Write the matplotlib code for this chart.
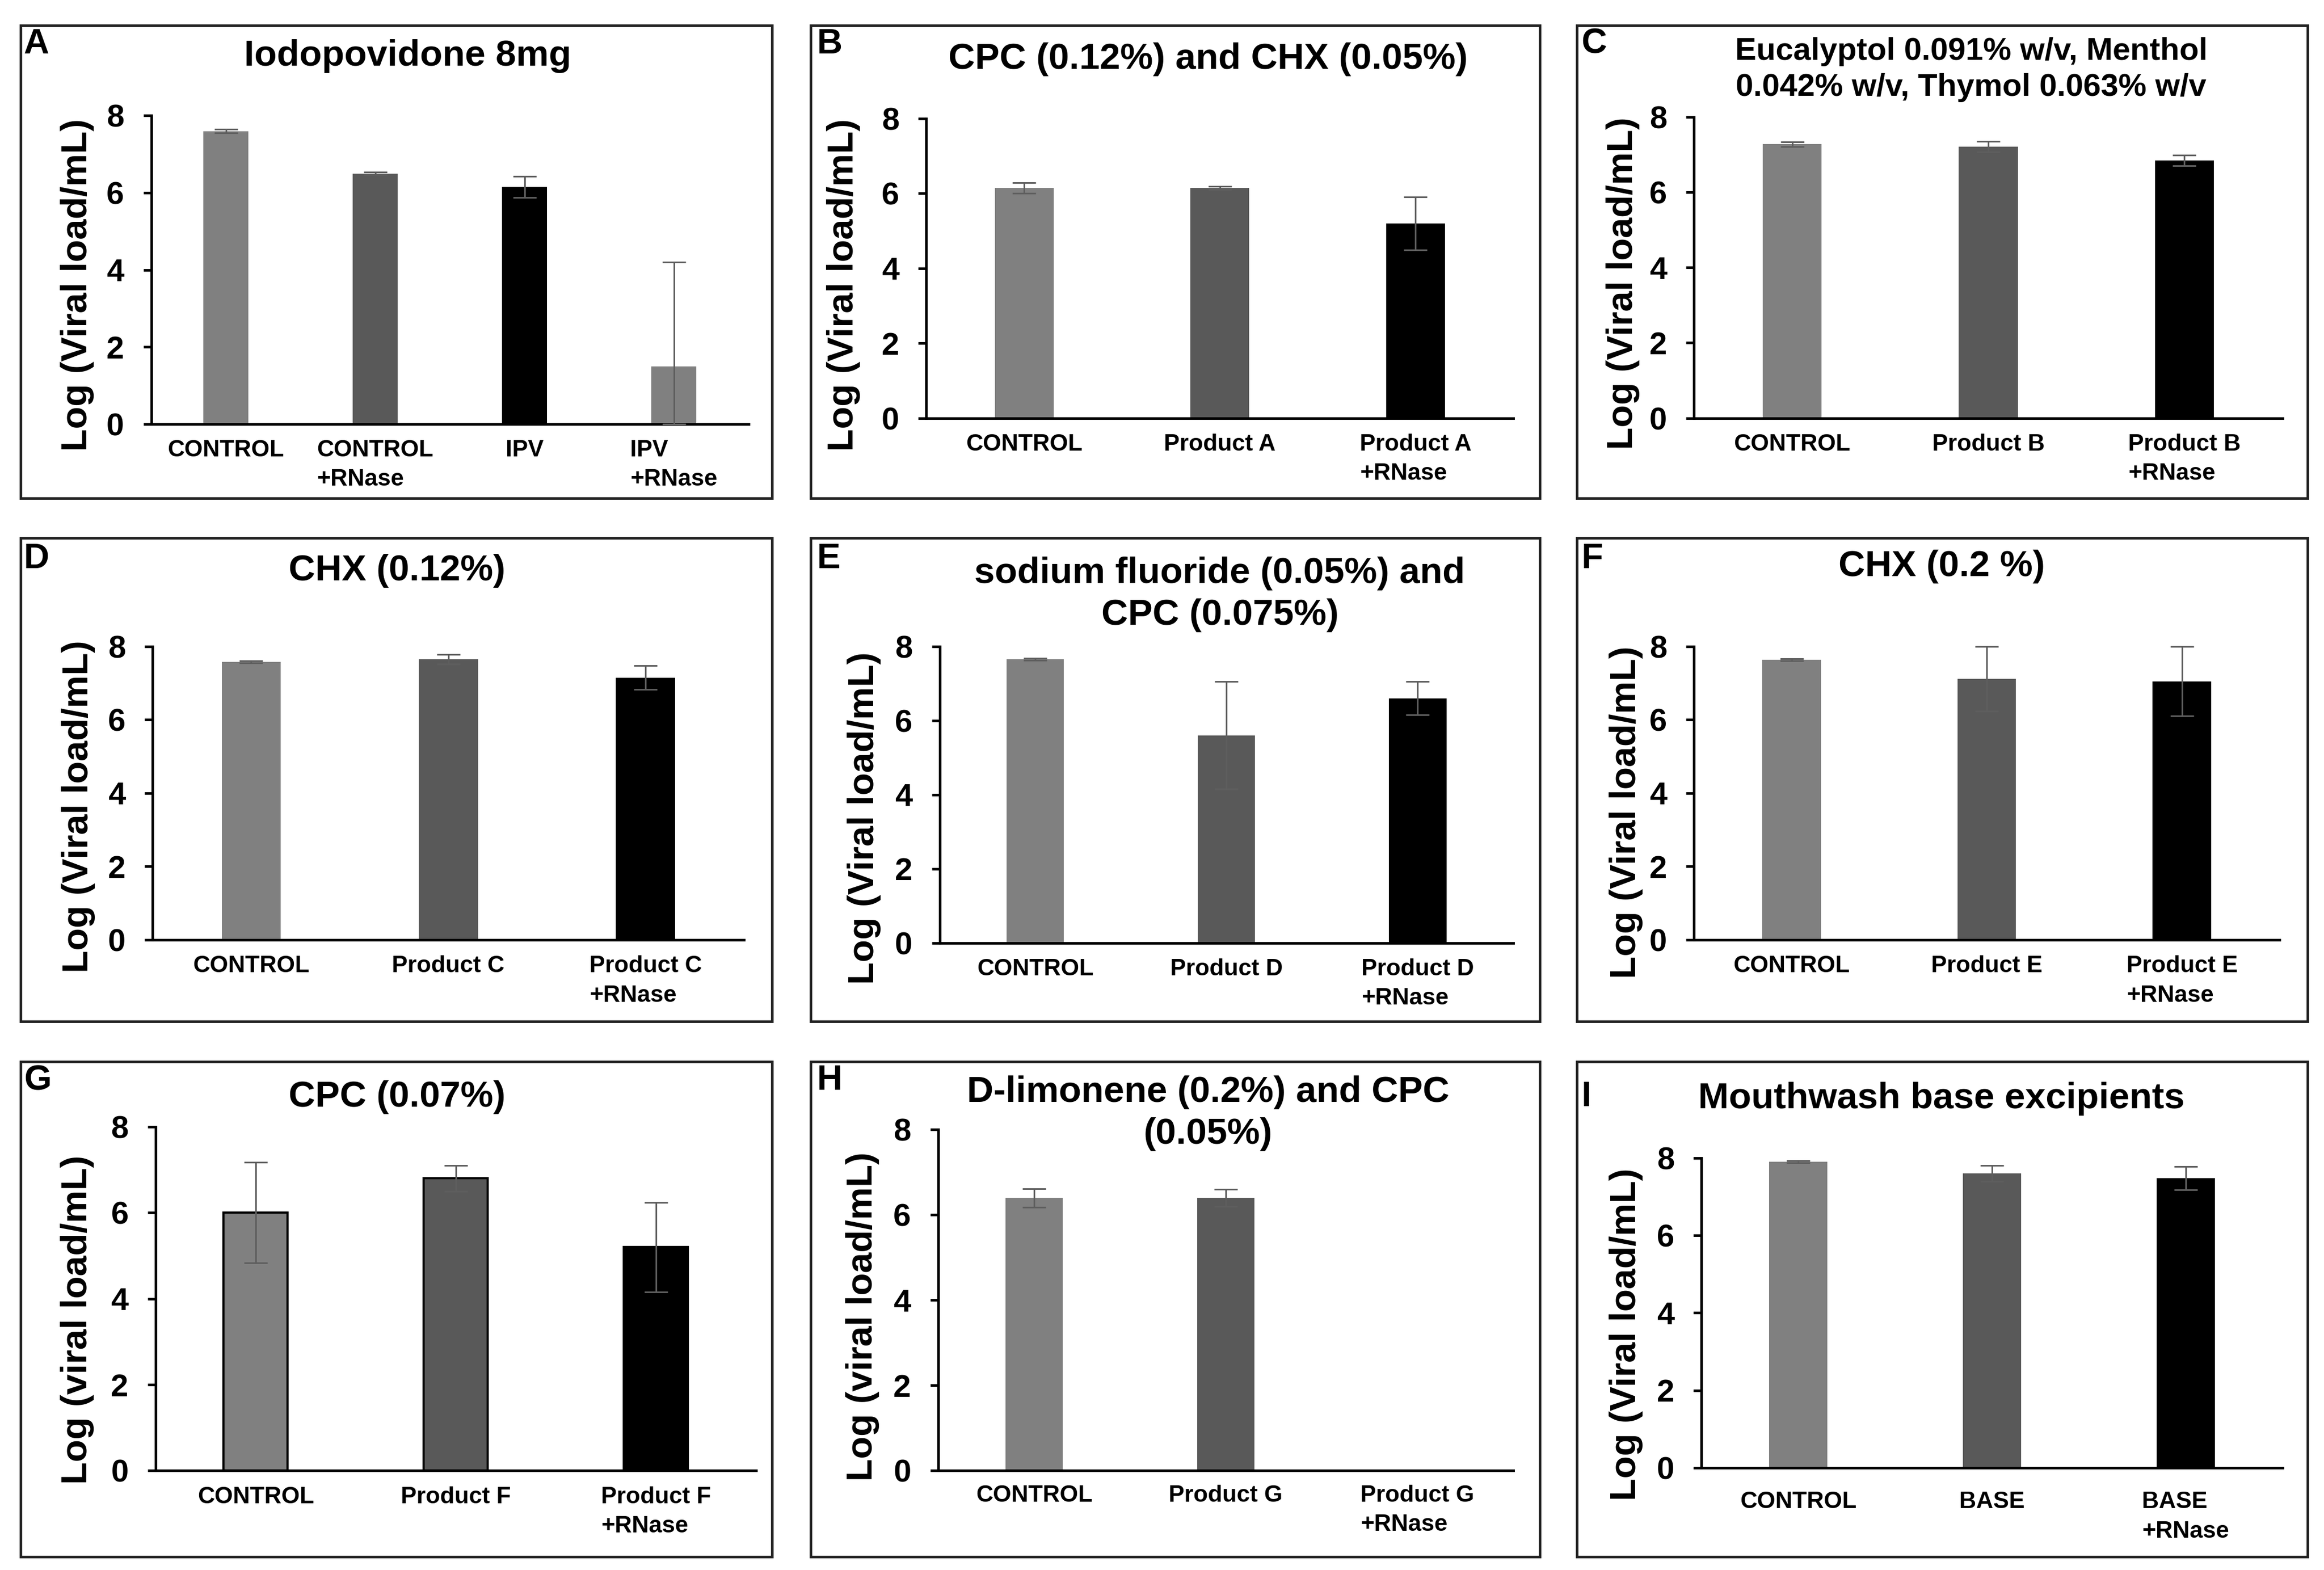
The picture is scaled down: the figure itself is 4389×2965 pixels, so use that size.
import numpy as np
import matplotlib
matplotlib.use('Agg')
import matplotlib.pyplot as plt
from matplotlib.patches import Rectangle

plt.rcParams['font.family'] = ['Liberation Sans', 'DejaVu Sans']
plt.rcParams['font.weight'] = 'bold'

LIGHT = '#808080'
DARK = '#595959'
BLACK = '#000000'
ERR = '#5e5e5e'

# ---- data ----
a_labels = ['CONTROL', 'CONTROL\n+RNase', 'IPV', 'IPV\n+RNase']
a_vals = [7.6, 6.5, 6.15, 1.5]
a_err = [0.05, 0.03, 0.27, 2.7]

b_labels = ['CONTROL', 'Product A', 'Product A\n+RNase']
b_vals = [6.15, 6.15, 5.2]
b_err = [0.14, 0.04, 0.71]

c_labels = ['CONTROL', 'Product B', 'Product B\n+RNase']
c_vals = [7.28, 7.22, 6.85]
c_err = [0.06, 0.14, 0.14]

d_labels = ['CONTROL', 'Product C', 'Product C\n+RNase']
d_vals = [7.58, 7.65, 7.15]
d_err = [0.03, 0.13, 0.32]

e_labels = ['CONTROL', 'Product D', 'Product D\n+RNase']
e_vals = [7.65, 5.6, 6.6]
e_err = [0.03, 1.45, 0.45]

f_labels = ['CONTROL', 'Product E', 'Product E\n+RNase']
f_vals = [7.63, 7.12, 7.05]
f_err = [0.03, 0.88, 0.95]

g_labels = ['CONTROL', 'Product F', 'Product F\n+RNase']
g_vals = [6.0, 6.8, 5.2]
g_err = [1.17, 0.3, 1.04]

h_labels = ['CONTROL', 'Product G', 'Product G\n+RNase']
h_vals = [6.4, 6.4, 0.0]
h_err = [0.22, 0.2, 0.0]

i_labels = ['CONTROL', 'BASE', 'BASE\n+RNase']
i_vals = [7.9, 7.6, 7.48]
i_err = [0.03, 0.2, 0.3]

letters = ['A', 'B', 'C', 'D', 'E', 'F', 'G', 'H', 'I']
titles = ['Iodopovidone 8mg',
          'CPC (0.12%) and CHX (0.05%)',
          'Eucalyptol 0.091% w/v, Menthol\n0.042% w/v, Thymol 0.063% w/v',
          'CHX (0.12%)',
          'sodium fluoride (0.05%) and\nCPC (0.075%)',
          'CHX (0.2 %)',
          'CPC (0.07%)',
          'D-limonene (0.2%) and CPC\n(0.05%)',
          'Mouthwash base excipients']
ylabels = ['Log (Viral load/mL)'] * 6 + ['Log (viral load/mL)'] * 2 + ['Log (Viral load/mL)']

panels = [(a_labels, a_vals, a_err, [LIGHT, DARK, BLACK, LIGHT]),
          (b_labels, b_vals, b_err, [LIGHT, DARK, BLACK]),
          (c_labels, c_vals, c_err, [LIGHT, DARK, BLACK]),
          (d_labels, d_vals, d_err, [LIGHT, DARK, BLACK]),
          (e_labels, e_vals, e_err, [LIGHT, DARK, BLACK]),
          (f_labels, f_vals, f_err, [LIGHT, DARK, BLACK]),
          (g_labels, g_vals, g_err, [LIGHT, DARK, BLACK]),
          (h_labels, h_vals, h_err, [LIGHT, DARK, BLACK]),
          (i_labels, i_vals, i_err, [LIGHT, DARK, BLACK])]

# ---- layout (in 1568x1059 preview coords) ----
REF_W, REF_H = 1568.0, 1059.0
def fx(x):
    return x / REF_W
def fy(y):
    return 1 - y / REF_H

# left, y of 0, right, y of 8
axes_box = [(102, 286, 505, 78), (625, 282, 1021, 80), (1143, 282, 1540, 79),
            (103, 634, 502, 436), (634, 636, 1021, 436), (1143, 634, 1538, 436),
            (105, 992, 510, 760), (633, 992, 1021, 762), (1148, 990, 1540, 781)]
frames = [(14, 17, 521, 336), (547, 17, 1039, 336), (1064, 17, 1557, 336),
          (14, 363, 521, 689), (547, 363, 1039, 689), (1064, 363, 1557, 689),
          (14, 716, 521, 1050), (547, 716, 1039, 1050), (1064, 716, 1557, 1050)]
title_pos = [(275, 38), (815, 40), (1330, 47), (268, 385), (823, 401), (1310, 382),
             (268, 740), (815, 751), (1310, 741)]
title_size = [50, 50, 43, 50, 50, 50, 50, 50, 50]
letter_pos = [(16, 30), (551, 30), (1067, 30), (16, 377), (551, 377), (1067, 377),
              (16, 729), (551, 729), (1067, 740)]
ylab_pos = [(52, 192), (569, 192), (1095, 191), (53, 544), (583, 552), (1097, 548),
            (52, 890), (582, 888), (1097, 900)]
xpad = [21, 21, 21, 21, 21, 21, 21, 19, 32]

fig = plt.figure(figsize=(43.89, 29.65), dpi=100)

for k, (labels, vals, err, cols) in enumerate(panels):
    l, b, r, t = axes_box[k]
    ax = fig.add_axes([fx(l), fy(b), fx(r) - fx(l), fy(t) - fy(b)])
    x = np.arange(len(labels))
    vals = np.array(vals)
    err = np.array(err)
    if letters[k] == 'G':
        ax.bar(x, vals, width=0.32, color=cols, edgecolor='black', linewidth=3)
    else:
        ax.bar(x, vals, width=0.3, color=cols, linewidth=0)
    m = err > 0
    lower = np.minimum(err, vals)
    ax.errorbar(x[m], vals[m], yerr=[lower[m], err[m]], fmt='none', ecolor=ERR,
                elinewidth=2.2, capsize=16, capthick=2.2, clip_on=False, zorder=3)
    ax.set_xlim(-0.5, len(labels) - 0.5)
    ax.set_ylim(0, 8)
    ax.set_yticks([0, 2, 4, 6, 8])
    ax.set_xticks(x)
    ax.set_xticklabels(labels, fontsize=32, fontweight='bold')
    for lab in ax.get_xticklabels():
        lab.set_multialignment('left')
        lab.set_linespacing(1.45)
    ax.tick_params(axis='y', labelsize=43, length=11, width=3.5, pad=26)
    ax.tick_params(axis='x', length=0, pad=xpad[k])
    for s in ['top', 'right']:
        ax.spines[s].set_visible(False)
    for s in ['left', 'bottom']:
        ax.spines[s].set_linewidth(3.5)

    fig.text(fx(ylab_pos[k][0]), fy(ylab_pos[k][1]), ylabels[k], rotation=90,
             ha='center', va='center', fontsize=50, fontweight='bold')
    fig.text(fx(title_pos[k][0]), fy(title_pos[k][1]), titles[k], ha='center',
             va='center', fontsize=title_size[k], fontweight='bold', linespacing=1.3)
    fig.text(fx(letter_pos[k][0]), fy(letter_pos[k][1]), letters[k], ha='left',
             va='center', fontsize=48, fontweight='bold')

    x0, y0, x1, y1 = frames[k]
    fig.add_artist(Rectangle((fx(x0), fy(y1)), fx(x1) - fx(x0), fy(y0) - fy(y1),
                             transform=fig.transFigure, fill=False, lw=3.5,
                             edgecolor='#222222'))

fig.savefig('out.png', dpi=100, facecolor='white')
